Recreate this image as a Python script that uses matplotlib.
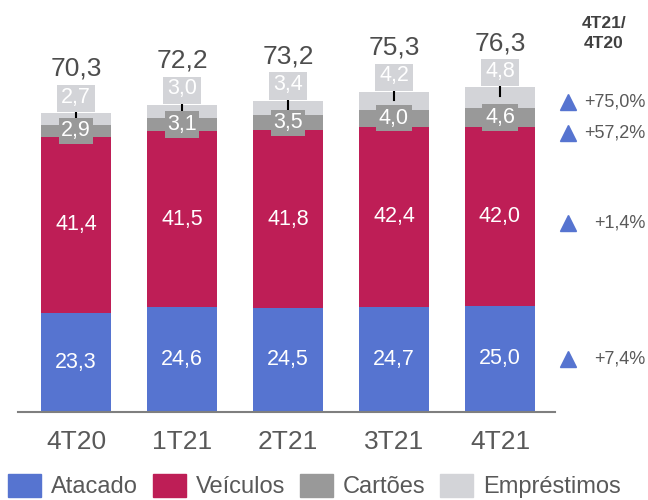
import numpy as np
import matplotlib.pyplot as plt
from matplotlib.patches import Patch

plt.rcParams['font.family'] = ['Liberation Sans', 'DejaVu Sans']

categories = ['4T20', '1T21', '2T21', '3T21', '4T21']
series_names = ['Atacado', 'Veículos', 'Cartões', 'Empréstimos']
atacado = [23.3, 24.6, 24.5, 24.7, 25.0]
veiculos = [41.4, 41.5, 41.8, 42.4, 42.0]
cartoes = [2.9, 3.1, 3.5, 4.0, 4.6]
emprestimos = [2.7, 3.0, 3.4, 4.2, 4.8]
totals = [70.3, 72.2, 73.2, 75.3, 76.3]
var_labels = ['+75,0%', '+57,2%', '+1,4%', '+7,4%']
var_header = '4T21/\n4T20'

colors = ['#5674D0', '#BE1E56', '#999999', '#D3D4D8']
var_ypos = [72.9, 65.6, 44.5, 12.5]  # vertical spots of the variation marks

def fmt(v):
    return f'{v:.1f}'.replace('.', ',')

fig = plt.figure(figsize=(6.48, 5.0), dpi=100)
ax = fig.add_axes([18/648, 88/500, 537/648, 412/500])
x = np.arange(len(categories))
w = 0.66

bottom = np.zeros(len(categories))
for vals, c in zip([atacado, veiculos, cartoes, emprestimos], colors):
    ax.bar(x, vals, w, bottom=bottom, color=c, zorder=2)
    bottom += np.array(vals)

for i in range(len(categories)):
    # white labels inside bars
    ax.text(x[i], atacado[i]/2, fmt(atacado[i]), ha='center', va='center',
            color='white', fontsize=15.5, zorder=4)
    ax.text(x[i], atacado[i] + veiculos[i]/2, fmt(veiculos[i]), ha='center', va='center',
            color='white', fontsize=15.5, zorder=4)
    yc = atacado[i] + veiculos[i] + cartoes[i]/2
    ax.text(x[i], yc, fmt(cartoes[i]), ha='center', va='center', color='white',
            fontsize=15.5, zorder=4,
            bbox=dict(boxstyle='square,pad=0.12', fc=colors[2], ec='none'))
    top = bottom[i]
    # leader line + label for Empréstimos
    ax.plot([x[i], x[i]], [top + 1.3, top - 2.0], color='black', lw=1.5, zorder=3)
    ax.text(x[i], top + 3.8, fmt(emprestimos[i]), ha='center', va='center', color='white',
            fontsize=15.5, zorder=4,
            bbox=dict(boxstyle='square,pad=0.2', fc=colors[3], ec='none'))
    # total
    ax.text(x[i], totals[i] + 8.8, fmt(totals[i]), ha='center', va='baseline',
            color='#4D4D4D', fontsize=19, zorder=5,
            bbox=dict(boxstyle='square,pad=0.15', fc='white', ec='none'))

# variation column on the right
for yv, lab in zip(var_ypos, var_labels):
    ax.plot(4.64, yv, marker='^', color=colors[0], markersize=12, clip_on=False,
            linestyle='none')
    ax.text(5.37, yv, lab, ha='right', va='center', color='#595959', fontsize=13,
            clip_on=False)
fig.text(604/648, 1 - 33.5/500, var_header, ha='center', va='center',
         fontsize=12.5, fontweight='bold', color='#404040', linespacing=1.35)

ax.set_xlim(-0.547, 4.519)
ax.set_ylim(0, 96.94)
ax.set_xticks(x)
ax.set_xticklabels(categories, fontsize=19, color='#595959')
ax.tick_params(axis='x', length=0, pad=13)
ax.set_yticks([])
for s in ['top', 'right', 'left']:
    ax.spines[s].set_visible(False)
ax.spines['bottom'].set_color('#7F7F7F')
ax.spines['bottom'].set_linewidth(1.5)
ax.spines['bottom'].set_zorder(3)

handles = [Patch(color=c, label=n) for c, n in zip(colors, series_names)]
fig.legend(handles=handles, loc='center left', bbox_to_anchor=(8/648, 1 - 486/500),
           ncol=4, frameon=False, fontsize=17, handlelength=1.4, handleheight=1.15,
           handletextpad=0.42, columnspacing=0.63, borderpad=0, borderaxespad=0,
           labelcolor='#595959')

fig.savefig('out.png', dpi=100)
